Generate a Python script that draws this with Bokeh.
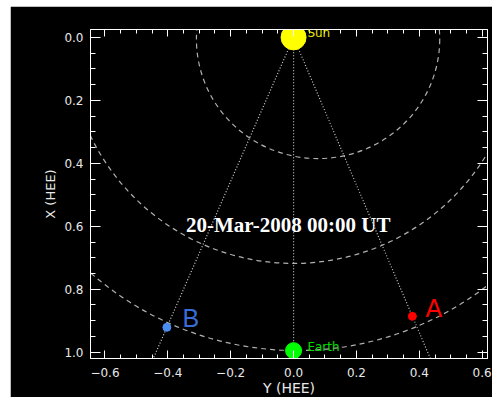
from bokeh.plotting import figure
from bokeh.models import Range1d, LinearAxis, FixedTicker, Label, ColumnDataSource, Spacer
from bokeh.layouts import column, row
from bokeh.embed import file_html
from bokeh.resources import INLINE
import numpy as np

# ---- data (HEE coordinates, AU) ----
body_names = ["Sun", "Earth", "A", "B"]
body_y_hee = [0.0, 0.0, 0.378, -0.403]      # plotted on horizontal axis
body_x_hee = [0.0, 0.995, 0.886, 0.921]     # plotted on vertical axis (inverted)
body_colors = ["#ffff00", "#00ff00", "#ff0000", "#4a8cf0"]
body_sizes = [25, 16, 8, 8]

orbit_names = ["Mercury", "Venus", "Earth"]
orbit_cy = [0.078, 0.0, 0.010]
orbit_cx = [0.006, 0.0, 0.0]
orbit_w = [0.774, 1.436, 1.990]
orbit_h = [0.758, 1.436, 1.990]

x_ticks = [-0.6, -0.4, -0.2, 0.0, 0.2, 0.4, 0.6]
x_tick_labels = ["\u22120.6", "\u22120.4", "\u22120.2", "0.0", "0.2", "0.4", "0.6"]
y_ticks = [0.0, 0.2, 0.4, 0.6, 0.8, 1.0]
y_tick_labels = ["0.0", "0.2", "0.4", "0.6", "0.8", "1.0"]

title_text = "20-Mar-2008 00:00 UT"

x_minor = [round(v, 2) for v in np.arange(-0.65, 0.651, 0.05)]
y_minor = [round(v, 2) for v in np.arange(0.0, 1.051, 0.05)]

p = figure(frame_width=397, frame_height=329,
           x_range=Range1d(-0.646, 0.617), y_range=Range1d(1.020, -0.025),
           output_backend="svg", toolbar_location=None,
           min_border_left=80, min_border_right=5, min_border_top=23, min_border_bottom=39,
           background_fill_color="black", border_fill_color="black",
           outline_line_color="white", x_axis_location=None, y_axis_location=None)
p.xgrid.visible = False
p.ygrid.visible = False

FONT = "DejaVu Sans"
LBL = "#e8e8e8"

def style_axis(ax, ticks, labels, minor, show_labels, major_in, minor_in):
    ax.ticker = FixedTicker(ticks=ticks, minor_ticks=minor)
    ax.major_label_overrides = {t: l for t, l in zip(ticks, labels)}
    ax.axis_line_color = "white"
    ax.major_tick_line_color = "white"
    ax.minor_tick_line_color = "white"
    ax.major_tick_in = major_in
    ax.major_tick_out = 0
    ax.minor_tick_in = minor_in
    ax.minor_tick_out = 0
    ax.major_label_text_font = FONT
    ax.major_label_text_font_size = "12px"
    ax.major_label_text_color = LBL if show_labels else None
    ax.axis_label_text_font = FONT
    ax.axis_label_text_font_style = "normal"
    ax.axis_label_text_color = LBL

xb = LinearAxis(axis_label="Y (HEE)")
style_axis(xb, x_ticks, x_tick_labels, x_minor, True, 8, 4)
xb.major_label_standoff = 9
xb.axis_label_standoff = 0
xb.axis_label_text_font_size = "14px"
p.add_layout(xb, "below")

xt = LinearAxis()
style_axis(xt, x_ticks, x_tick_labels, x_minor, False, 7, 4)
xt.major_label_text_font_size = "0px"
xt.major_label_standoff = 0
p.add_layout(xt, "above")

yl = LinearAxis(axis_label="X (HEE)")
style_axis(yl, y_ticks, y_tick_labels, y_minor, True, 10, 5)
yl.major_label_standoff = 7
yl.axis_label_standoff = 3
yl.axis_label_text_font_size = "13px"
p.add_layout(yl, "left")

yr = LinearAxis()
style_axis(yr, y_ticks, y_tick_labels, y_minor, False, 10, 5)
yr.major_label_text_font_size = "0px"
yr.major_label_standoff = 0
p.add_layout(yr, "right")

# planetary orbits
osrc = ColumnDataSource(dict(x=orbit_cy, y=orbit_cx, w=orbit_w, h=orbit_h))
p.ellipse(x="x", y="y", width="w", height="h", source=osrc, fill_color=None,
          line_color="#b0b0b0", line_width=1.2, line_dash="5 4")

# dotted lines from the Sun
sx, sy = body_y_hee[0], body_x_hee[0]
ex, ey = body_y_hee[1], body_x_hee[1]
ax_, ay_ = body_y_hee[2], body_x_hee[2]
bx_, by_ = body_y_hee[3], body_x_hee[3]
ext = 1.3
p.segment(x0=[sx, sx, sx], y0=[sy, sy, sy],
          x1=[ex, ax_ * ext, bx_ * ext], y1=[ey, ay_ * ext, by_ * ext],
          line_color="#c8c8c8", line_width=1.2, line_dash="1 2")

bsrc = ColumnDataSource(dict(x=body_y_hee, y=body_x_hee, c=body_colors, s=body_sizes))
p.scatter(x="x", y="y", size="s", fill_color="c", line_color="c", source=bsrc)

# labels
p.add_layout(Label(x=0.044, y=-0.013, text="Sun", text_color="#e6e600", text_font=FONT,
                   text_font_size="12px", text_baseline="middle", text_align="left"))
p.add_layout(Label(x=0.044, y=0.982, text="Earth", text_color="#00e000", text_font=FONT,
                   text_font_size="12px", text_baseline="middle", text_align="left"))
p.add_layout(Label(x=0.42, y=0.859, text="A", text_color="#ff0000", text_font="Liberation Sans",
                   text_font_size="25px", text_baseline="middle", text_align="left"))
p.add_layout(Label(x=-0.353, y=0.892, text="B", text_color="#3a6cd8", text_font="Liberation Sans",
                   text_font_size="25px", text_baseline="middle", text_align="left"))
p.add_layout(Label(x=-0.017, y=0.595, text=title_text, text_color="white",
                   text_font="Liberation Serif", text_font_style="bold",
                   text_font_size="21px", text_baseline="middle", text_align="center"))

layout = column(Spacer(height=6), row(Spacer(width=10), p))
open("out.html", "w").write(file_html(layout, INLINE))
